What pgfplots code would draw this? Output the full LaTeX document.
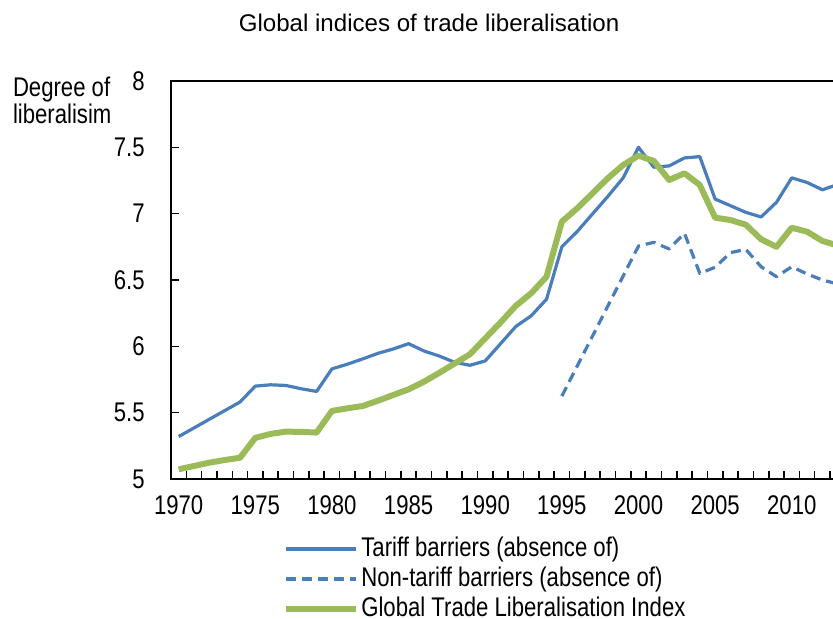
\documentclass[border=0pt]{standalone}
\usepackage{fontspec}
\setmainfont{Liberation Sans}[FakeStretch=0.82]
\newfontfamily\titlefont{Liberation Sans}
\usepackage{pgfplots}
\pgfplotsset{compat=1.18}
\definecolor{tblue}{HTML}{4A7EBB}
\definecolor{tgreen}{HTML}{9BBB59}
\pgfplotstableread{
year tariff gtli
1970 5.32 5.073
1971 5.385 5.098
1972 5.45 5.123
1973 5.515 5.143
1974 5.58 5.16
1975 5.70 5.31
1976 5.71 5.34
1977 5.705 5.357
1978 5.68 5.355
1979 5.66 5.35
1980 5.83 5.513
1981 5.865 5.533
1982 5.905 5.55
1983 5.947 5.59
1984 5.98 5.633
1985 6.02 5.676
1986 5.965 5.733
1987 5.927 5.80
1988 5.88 5.87
1989 5.857 5.94
1990 5.89 6.06
1991 6.02 6.18
1992 6.15 6.306
1993 6.23 6.40
1994 6.355 6.525
1995 6.75 6.94
1996 6.865 7.04
1997 6.998 7.153
1998 7.13 7.267
1999 7.27 7.367
2000 7.50 7.437
2001 7.35 7.397
2002 7.36 7.254
2003 7.42 7.304
2004 7.43 7.216
2005 7.11 6.97
2006 7.06 6.952
2007 7.01 6.917
2008 6.975 6.807
2009 7.085 6.75
2010 7.27 6.894
2011 7.235 6.864
2012 7.18 6.794
2013 7.22 6.76
}\mainT
\pgfplotstableread{
year ntb
1995 5.625
1996 5.851
1997 6.077
1998 6.304
1999 6.53
2000 6.756
2001 6.784
2002 6.734
2003 6.852
2004 6.55
2005 6.596
2006 6.706
2007 6.731
2008 6.60
2009 6.525
2010 6.60
2011 6.545
2012 6.50
2013 6.47
}\ntbT
\begin{document}
\fontsize{13.5pt}{14pt}\selectfont
\begin{tikzpicture}
\begin{axis}[
  at={(85.5pt,70pt)}, anchor=south west,
  scale only axis, width=337.2pt, height=199pt,
  xmin=1969.5, xmax=2013.5, ymin=5, ymax=8,
  ytick={5,5.5,6,6.5,7,7.5,8},
  xtick={1970.5,1971.5,...,2012.5}, xticklabels={},
  extra x ticks={1970,1975,1980,1985,1990,1995,2000,2005,2010},
  extra x tick labels={1970,1975,1980,1985,1990,1995,2000,2005,2010},
  extra x tick style={major tick length=0pt},
  xtick pos=left, ytick pos=left,
  tick align=inside,
  major tick length=4pt,
  tick style={black, line width=0.8pt},
  axis line style={black, line width=0.8pt},
  /pgf/number format/assume math mode=true,
  yticklabel style={anchor=east, inner sep=0pt, xshift=-13pt},
  xticklabel style={anchor=north, inner sep=0pt, yshift=-8pt},
  legend style={at={(axis description cs:0.166,-0.2515)}, anchor=west,
    draw=none, fill=none, inner sep=0pt, row sep=0.5pt, column sep=1pt,
    nodes={inner sep=0pt, text height=11pt, text depth=3.5pt}},
  legend cell align=left,
  legend image code/.code={\draw[#1] (0pt,0pt) -- (35pt,0pt);},
]
\addplot[tblue, line width=1.6pt, line join=round] table[x=year, y=tariff] {\mainT};
\addlegendentry{Tariff barriers (absence of)}
\addplot[tblue, line width=1.6pt, line join=round, dash pattern=on 5pt off 3pt] table[x=year, y=ntb] {\ntbT};
\addlegendentry{Non-tariff barriers (absence of)}
\addplot[tgreen, line width=3pt, line join=round] table[x=year, y=gtli] {\mainT};
\addlegendentry{Global Trade Liberalisation Index}
\end{axis}
\node[font=\titlefont\fontsize{12.05pt}{13pt}\selectfont] at (214.5pt,297.8pt) {Global indices of trade liberalisation};
\node[anchor=base west, inner sep=0pt] at (6.3pt,261.2pt) {Degree of};
\node[anchor=base west, inner sep=0pt] at (6.3pt,247.8pt) {liberalisim};
\pgfresetboundingbox
\useasboundingbox (0pt,0pt) rectangle (416.5pt,309.5pt);
\end{tikzpicture}
\end{document}
